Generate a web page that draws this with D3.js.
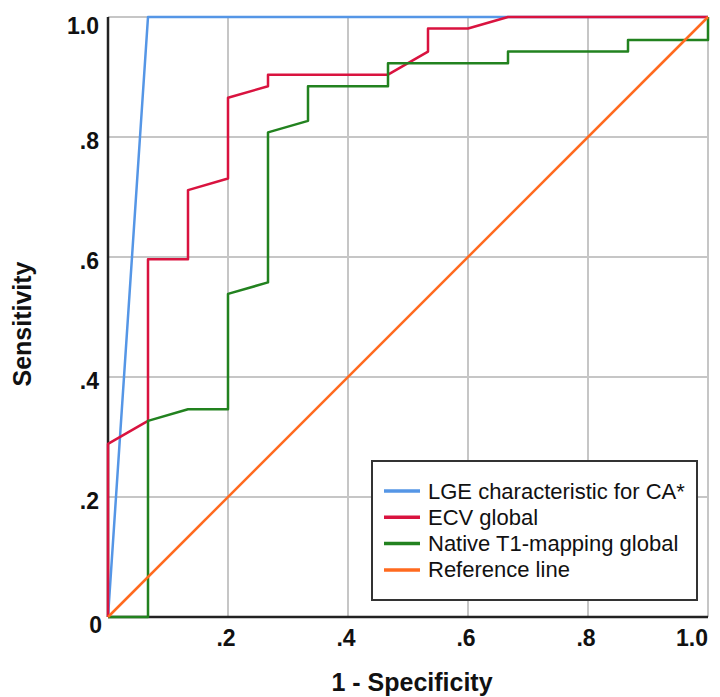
<!DOCTYPE html>
<html lang="en">
  <head>
    <script src="https://cdn.jsdelivr.net/npm/d3@7"></script>
    <style>
      body {
        margin: 0;
        background: #fff;
      }
      svg {
        display: block;
        font-family: Arial, "Liberation Sans", sans-serif;
      }
      .tick-label {
        font-size: 23px;
        font-weight: 700;
        fill: #111;
      }
      .axis-title {
        font-size: 25px;
        font-weight: 700;
        fill: #111;
      }
      .legend text {
        font-size: 22px;
        fill: #111;
      }
    </style>
  </head>
  <body>
    <svg></svg>
  </body>
  <script>

    // ROC curves: x = 1 - specificity (steps of 1/15), y = sensitivity (steps of 1/52)
    const lgeX = [0, 1/15, 1];
    const lgeY = [0, 1, 1];

    const ecvX = [0, 0, 1/15, 1/15, 2/15, 2/15, 3/15, 3/15, 4/15, 4/15, 7/15, 8/15, 8/15, 9/15, 10/15, 1];
    const ecvY = [0, 15/52, 17/52, 31/52, 31/52, 37/52, 38/52, 45/52, 46/52, 47/52, 47/52, 49/52, 51/52, 51/52, 1, 1];

    const t1X = [0, 1/15, 1/15, 2/15, 3/15, 3/15, 4/15, 4/15, 5/15, 5/15, 7/15, 7/15, 10/15, 10/15, 13/15, 13/15, 1, 1];
    const t1Y = [0, 0, 17/52, 18/52, 18/52, 28/52, 29/52, 42/52, 43/52, 46/52, 46/52, 48/52, 48/52, 49/52, 49/52, 50/52, 50/52, 1];

    const refX = [0, 1];
    const refY = [0, 1];

    const seriesNames = ['LGE characteristic for CA*', 'ECV global', 'Native T1-mapping global', 'Reference line'];
    const seriesColors = ['#5596e6', '#d9133f', '#22821f', '#ff6a1f'];

    const tickValues = [0.2, 0.4, 0.6, 0.8, 1.0];
    const tickLabels = ['.2', '.4', '.6', '.8', '1.0'];

    const width = 720;
    const height = 697;
    const margin = { top: 17, right: 12, bottom: 80, left: 108 };
    const innerW = 600;
    const innerH = 600;

    const svg = d3.select('svg')
        .attr('width', width)
        .attr('height', height);

    const x = d3.scaleLinear().domain([0, 1]).range([margin.left, margin.left + innerW]);
    const y = d3.scaleLinear().domain([0, 1]).range([margin.top + innerH, margin.top]);

    // Grid
    const grid = svg.append('g')
        .attr('stroke', '#c6c6c6')
        .attr('stroke-width', 2);
    grid.selectAll('.vgrid')
        .data(tickValues)
      .enter().append('line')
        .attr('x1', d => x(d)).attr('x2', d => x(d))
        .attr('y1', y(0)).attr('y2', y(1));
    grid.selectAll('.hgrid')
        .data(tickValues)
      .enter().append('line')
        .attr('x1', x(0)).attr('x2', x(1))
        .attr('y1', d => y(d)).attr('y2', d => y(d));

    // Axes lines
    svg.append('line')
        .attr('x1', x(0)).attr('x2', x(0))
        .attr('y1', y(0)).attr('y2', y(1))
        .attr('stroke', '#222').attr('stroke-width', 2.5);
    svg.append('line')
        .attr('x1', x(0)).attr('x2', x(1))
        .attr('y1', y(0)).attr('y2', y(0))
        .attr('stroke', '#222').attr('stroke-width', 2.5);

    // Curves
    const line = d3.line()
        .x(d => x(d[0]))
        .y(d => y(d[1]));

    const series = [
      d3.zip(lgeX, lgeY),
      d3.zip(ecvX, ecvY),
      d3.zip(t1X, t1Y),
      d3.zip(refX, refY)
    ];

    svg.append('g').selectAll('path')
        .data(series)
      .enter().append('path')
        .attr('d', line)
        .attr('fill', 'none')
        .attr('stroke', (d, i) => seriesColors[i])
        .attr('stroke-width', 2.5)
        .attr('stroke-linejoin', 'round');

    // Tick labels
    svg.selectAll('.ylab')
        .data(tickValues)
      .enter().append('text')
        .attr('class', 'tick-label')
        .attr('text-anchor', 'end')
        .attr('dominant-baseline', 'central')
        .attr('x', x(0) - 9)
        .attr('y', d => Math.max(y(d) + 3.5, 26))
        .text((d, i) => tickLabels[i]);

    svg.selectAll('.xlab')
        .data(tickValues)
      .enter().append('text')
        .attr('class', 'tick-label')
        .attr('text-anchor', (d, i) => i === tickValues.length - 1 ? 'end' : 'middle')
        .attr('x', d => d === 1 ? x(d) : x(d) - 2)
        .attr('y', y(0) + 29)
        .text((d, i) => tickLabels[i]);

    svg.append('text')
        .attr('class', 'tick-label')
        .attr('text-anchor', 'end')
        .attr('dominant-baseline', 'central')
        .attr('x', x(0) - 6)
        .attr('y', y(0) + 8)
        .text('0');

    // Axis titles
    svg.append('text')
        .attr('class', 'axis-title')
        .attr('text-anchor', 'middle')
        .attr('x', (x(0) + x(1)) / 2 + 4)
        .attr('y', 691)
        .text('1 - Specificity');

    svg.append('text')
        .attr('class', 'axis-title')
        .attr('text-anchor', 'middle')
        .attr('transform', 'translate(' + 31 + ',' + 324 + ') rotate(-90)')
        .text('Sensitivity');

    // Legend
    const legend = svg.append('g').attr('class', 'legend');
    legend.append('rect')
        .attr('x', 372).attr('y', 461)
        .attr('width', 325).attr('height', 139)
        .attr('fill', '#fff')
        .attr('stroke', '#333')
        .attr('stroke-width', 2);

    const rows = legend.selectAll('.row')
        .data(seriesNames)
      .enter().append('g')
        .attr('transform', (d, i) => 'translate(384,' + (491 + i * 26.3) + ')');
    rows.append('line')
        .attr('x1', 0).attr('x2', 36)
        .attr('stroke', (d, i) => seriesColors[i])
        .attr('stroke-width', 3.5);
    rows.append('text')
        .attr('x', 44)
        .attr('dominant-baseline', 'central')
        .text(d => d);
  </script>
</html>
